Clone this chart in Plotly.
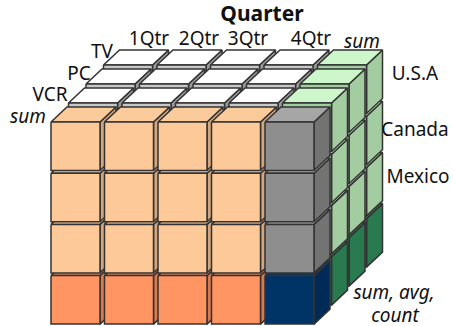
import plotly.graph_objects as go

# Dimension members of the data cube
quarters = ["1Qtr", "2Qtr", "3Qtr", "4Qtr", "sum"]
products = ["sum", "VCR", "PC", "TV"]
countries = ["U.S.A", "Canada", "Mexico", "sum"]

# Face colours as (top, front, side)
BODY = ("#FCCB9B", "#FDC998", "#D2A67E")
BODY_TOTAL = ("#FF9A6A", "#FF9562", "#D87A4E")
PLATE = ("#FFFFFF", "#C8C8C8", "#9A9A9A")
COLUMN_TOTAL = ("#A6A6A6", "#8E8E8E", "#737373")
GRAND_TOTAL = ("#0A3A70", "#003366", "#002A57")
SLICE_TOTAL = ("#CDF7CA", "#A3CCA1", "#A3CCA1")
SLICE_GRAND = ("#3F8F62", "#2A7A50", "#2A7A50")

# Oblique projection of the cube grid onto the page
ORIGIN_X, ORIGIN_Y = 51.0, 122.0
CELL_W, CELL_H = 49.0, 48.5
PITCH_X, PITCH_Y = 53.5, 51.2
DEPTH_DX, DEPTH_DY = 16.0, 15.0
LAYER_DX, LAYER_DY = 17.5, 19.0
EDGE = "#333333"


def cube_colours(col, row, depth):
    is_sum_col = col == len(quarters) - 1
    is_sum_row = row == len(countries) - 1
    if depth == 0:
        if is_sum_col:
            return GRAND_TOTAL if is_sum_row else COLUMN_TOTAL
        return BODY_TOTAL if is_sum_row else BODY
    if is_sum_col:
        return SLICE_GRAND if is_sum_row else SLICE_TOTAL
    return PLATE


def add_face(fig, xs, ys, colour):
    fig.add_trace(go.Scatter(
        x=xs + xs[:1], y=ys + ys[:1], mode="lines", fill="toself",
        fillcolor=colour, line=dict(color=EDGE, width=1.5),
        hoverinfo="skip", showlegend=False,
    ))


def add_cube(fig, col, row, depth):
    top, front, side = cube_colours(col, row, depth)
    left = ORIGIN_X + col * PITCH_X + depth * LAYER_DX
    head = ORIGIN_Y + row * PITCH_Y - depth * LAYER_DY
    right, foot = left + CELL_W, head + CELL_H
    add_face(fig, [right, right + DEPTH_DX, right + DEPTH_DX, right],
             [head, head - DEPTH_DY, foot - DEPTH_DY, foot], side)
    add_face(fig, [left, left + DEPTH_DX, right + DEPTH_DX, right],
             [head, head - DEPTH_DY, head - DEPTH_DY, head], top)
    add_face(fig, [left, right, right, left], [head, head, foot, foot], front)


fig = go.Figure()

# Painted from the rear layer forward, bottom row up, left column to right
for depth in reversed(range(len(products))):
    for row in reversed(range(len(countries))):
        for col in range(len(quarters)):
            add_cube(fig, col, row, depth)

# Text: label, x, y, size, style
FONT = "Noto Sans"
BASE = 19
labels = [
    ("<b>Quarter</b>", 262, 16, 21, "normal"),
    (quarters[0], 149, 40, BASE, "normal"),
    (quarters[1], 199, 40, BASE, "normal"),
    (quarters[2], 248, 40, BASE, "normal"),
    (quarters[3], 311, 40, BASE, "normal"),
    (quarters[4], 362, 43, BASE, "italic"),
    (products[3], 102, 53, BASE, "normal"),
    (products[2], 79, 75, BASE, "normal"),
    (products[1], 50, 96, BASE, "normal"),
    (products[0], 28, 118, BASE, "italic"),
    (countries[0], 415, 75, BASE, "normal"),
    (countries[1], 415, 131, BASE, "normal"),
    (countries[2], 418, 178, BASE, "normal"),
    ("sum, avg,", 394, 294, BASE, "italic"),
    ("count", 395, 317, BASE, "italic"),
]
for text, x, y, size, style in labels:
    fig.add_trace(go.Scatter(
        x=[x], y=[y], mode="text", text=[text], textposition="middle center",
        textfont=dict(family=FONT, size=size, color="#111111", style=style),
        hoverinfo="skip", showlegend=False, cliponaxis=False,
    ))

fig.update_layout(
    width=453, height=326, margin=dict(l=0, r=0, t=0, b=0),
    paper_bgcolor="white", plot_bgcolor="white",
    xaxis=dict(range=[0, 453], visible=False, fixedrange=True),
    yaxis=dict(range=[326, 0], visible=False, fixedrange=True),
)
fig.write_html("out.html", config={"displayModeBar": False})
